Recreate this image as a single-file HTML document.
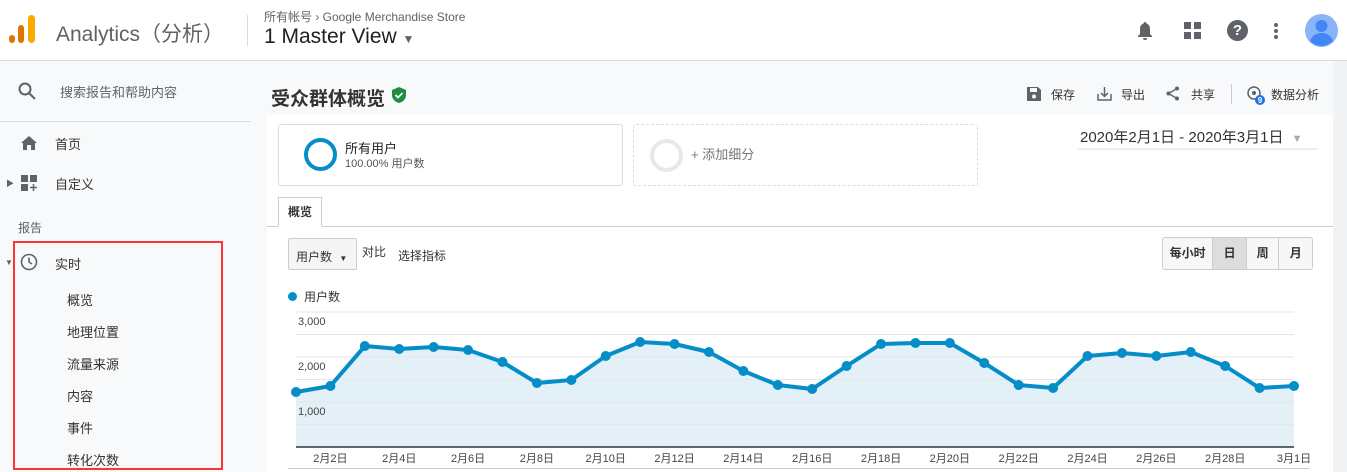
<!DOCTYPE html>
<html><head><meta charset="utf-8">
<style>
*{box-sizing:border-box;margin:0;padding:0}
body{width:1347px;height:472px;overflow:hidden;background:#f8f9fa;font-family:"Liberation Sans","Noto Sans CJK SC",sans-serif;color:#333;position:relative}
.a{position:absolute}
</style></head><body>
<div class="a" style="left:0;top:0;width:1347px;height:61px;background:#fff;border-bottom:1px solid #dadce0"></div>
<svg class="a" style="left:9px;top:15px" width="28" height="30"><rect x="0" y="20" width="6" height="8" rx="3" fill="#e37400"/><rect x="9" y="10" width="6" height="18" rx="3" fill="#e37400"/><rect x="19" y="0" width="7" height="28" rx="3.5" fill="#f9ab00"/></svg>
<div class="a" style="left:56px;top:18px;font-size:21px;color:#5f6368">Analytics（分析）</div>
<div class="a" style="left:247px;top:15px;width:1px;height:31px;background:#dadce0"></div>
<div class="a" style="left:264px;top:8px;font-size:12px;color:#5f6368">所有帐号 › Google Merchandise Store</div>
<div class="a" style="left:264px;top:25px;font-size:21px;color:#202124">1 Master View <span style="font-size:12px;color:#5f6368">▼</span></div>
<svg class="a" style="left:1136px;top:21px" width="18" height="20"><path d="M9 1c-1 0-1.5.8-1.5 1.5C5 3.3 4 5.5 4 8v5l-2 2v1h14v-1l-2-2V8c0-2.5-1-4.7-3.5-5.5C10.5 1.8 10 1 9 1z M7 17h4a2 2 0 0 1-4 0z" fill="#5f6368"/></svg>
<svg class="a" style="left:1184px;top:22px" width="17" height="17"><rect x="0" y="0" width="7" height="7" fill="#5f6368"/><rect x="10" y="0" width="7" height="7" fill="#5f6368"/><rect x="0" y="10" width="7" height="7" fill="#5f6368"/><rect x="10" y="10" width="7" height="7" fill="#5f6368"/></svg>
<div class="a" style="left:1227px;top:20px;width:21px;height:21px;border-radius:50%;background:#5f6368;color:#fff;font-size:15px;font-weight:bold;text-align:center;line-height:21px">?</div>
<svg class="a" style="left:1273px;top:22px" width="6" height="18"><circle cx="3" cy="3" r="2" fill="#5f6368"/><circle cx="3" cy="9" r="2" fill="#5f6368"/><circle cx="3" cy="15" r="2" fill="#5f6368"/></svg>
<svg class="a" style="left:1305px;top:14px" width="33" height="33"><circle cx="16.5" cy="16.5" r="16.5" fill="#8ab4f8"/><circle cx="16.5" cy="12" r="6" fill="#4285f4"/><path d="M5 27c2-6 7-8 11.5-8s9.5 2 11.5 8a16 16 0 0 1-23 0z" fill="#4285f4"/></svg>

<svg class="a" style="left:18px;top:82px" width="18" height="18"><circle cx="7" cy="7" r="5.5" stroke="#5f6368" stroke-width="2" fill="none"/><line x1="11" y1="11" x2="17" y2="17" stroke="#5f6368" stroke-width="2"/></svg>
<div class="a" style="left:60px;top:82px;font-size:13px;color:#5f6368">搜索报告和帮助内容</div>
<div class="a" style="left:0;top:121px;width:251px;height:1px;background:#dadce0"></div>
<svg class="a" style="left:21px;top:136px" width="16" height="14"><path d="M8 0L0 7h2v7h4V9h4v5h4V7h2z" fill="#5f6368"/></svg>
<div class="a" style="left:55px;top:134px;font-size:13px">首页</div>
<div class="a" style="left:6px;top:178px;font-size:8px;color:#5f6368">▶</div>
<svg class="a" style="left:21px;top:175px" width="16" height="16"><rect x="0" y="0" width="7" height="7" fill="#5f6368"/><rect x="9" y="0" width="7" height="7" fill="#5f6368"/><rect x="0" y="9" width="7" height="7" fill="#5f6368"/><path d="M12.5 9v7M9 12.5h7" stroke="#5f6368" stroke-width="1.5"/></svg>
<div class="a" style="left:55px;top:174px;font-size:13px">自定义</div>
<div class="a" style="left:18px;top:219px;font-size:12px;color:#5f6368">报告</div>
<div class="a" style="left:13px;top:241px;width:210px;height:229px;border:2px solid #f33"></div>
<div class="a" style="left:5px;top:258px;font-size:8px;color:#5f6368">▼</div>
<svg class="a" style="left:20px;top:253px" width="18" height="18"><circle cx="9" cy="9" r="7.5" stroke="#5f6368" stroke-width="1.6" fill="none"/><path d="M9 4.5V9l3 2" stroke="#5f6368" stroke-width="1.6" fill="none"/></svg>
<div class="a" style="left:55px;top:254px;font-size:13px">实时</div>
<div class="a" style="left:67px;top:290px;font-size:13px">概览</div>
<div class="a" style="left:67px;top:322px;font-size:13px">地理位置</div>
<div class="a" style="left:67px;top:354px;font-size:13px">流量来源</div>
<div class="a" style="left:67px;top:386px;font-size:13px">内容</div>
<div class="a" style="left:67px;top:418px;font-size:13px">事件</div>
<div class="a" style="left:67px;top:450px;font-size:13px">转化次数</div>

<div class="a" style="left:271px;top:84px;font-size:19px;font-weight:bold;color:#333">受众群体概览</div>
<svg class="a" style="left:392px;top:87px" width="14" height="16"><path d="M7 0L0 3v5c0 4 3 7 7 8 4-1 7-4 7-8V3z" fill="#1e8e3e"/><path d="M3.5 8l2.5 2.5L10.5 6" stroke="#fff" stroke-width="1.8" fill="none"/></svg>
<svg class="a" style="left:1027px;top:87px" width="14" height="14"><path d="M0 0h11l3 3v11H0z" fill="#5f6368"/><rect x="3" y="1" width="7" height="4" fill="#f8f9fa"/><circle cx="7" cy="9.5" r="2" fill="#f8f9fa"/></svg>
<div class="a" style="left:1051px;top:86px;font-size:12px;color:#333">保存</div>
<svg class="a" style="left:1097px;top:86px" width="15" height="15"><path d="M1 8v6h13V8M7.5 1v9M4 7l3.5 3.5L11 7" stroke="#5f6368" stroke-width="1.5" fill="none"/></svg>
<div class="a" style="left:1121px;top:86px;font-size:12px;color:#333">导出</div>
<svg class="a" style="left:1166px;top:86px" width="14" height="15"><circle cx="11" cy="2.5" r="2" fill="#5f6368"/><circle cx="2.5" cy="7.5" r="2" fill="#5f6368"/><circle cx="11" cy="12.5" r="2" fill="#5f6368"/><path d="M11 2.5L2.5 7.5 11 12.5" stroke="#5f6368" stroke-width="1.4" fill="none"/></svg>
<div class="a" style="left:1191px;top:86px;font-size:12px;color:#333">共享</div>
<div class="a" style="left:1231px;top:84px;width:1px;height:20px;background:#ccc"></div>
<svg class="a" style="left:1246px;top:86px" width="20" height="20"><circle cx="8" cy="7" r="6" stroke="#5f6368" stroke-width="1.5" fill="none"/><circle cx="8" cy="7" r="2" fill="#5f6368"/><circle cx="14" cy="14" r="5" fill="#1a73e8"/><text x="14" y="17" font-size="8" fill="#fff" text-anchor="middle" font-weight="bold" font-family="Liberation Sans">9</text></svg>
<div class="a" style="left:1271px;top:86px;font-size:12px;color:#333">数据分析</div>

<div class="a" style="left:267px;top:115px;width:1066px;height:357px;background:#fff"></div>
<div class="a" style="left:1333px;top:61px;width:14px;height:411px;background:#f1f3f4"></div>
<div class="a" style="left:278px;top:124px;width:345px;height:62px;border:1px solid #dadce0;border-radius:3px;background:#fff"></div>
<div class="a" style="left:304px;top:138px;width:33px;height:33px;border-radius:50%;border:4px solid #058dc7"></div>
<div class="a" style="left:345px;top:138px;font-size:13px;color:#222">所有用户</div>
<div class="a" style="left:345px;top:155px;font-size:11px;color:#555">100.00% 用户数</div>
<div class="a" style="left:633px;top:124px;width:345px;height:62px;border:1px dashed #dadce0;border-radius:3px"></div>
<div class="a" style="left:650px;top:139px;width:33px;height:33px;border-radius:50%;border:4px solid #e8e8e8"></div>
<div class="a" style="left:691px;top:144px;font-size:13px;color:#777">+ 添加细分</div>
<div class="a" style="left:1078px;top:126px;width:240px;height:24px;border-bottom:2px solid #eee;font-size:15px;color:#333;padding-left:2px">2020年2月1日 - 2020年3月1日 <span style="color:#aaa;font-size:11px;margin-left:4px">▼</span></div>
<div class="a" style="left:267px;top:226px;width:1066px;height:1px;background:#ccc"></div>
<div class="a" style="left:278px;top:197px;width:44px;height:30px;border:1px solid #ccc;border-bottom:1px solid #fff;background:#fff;font-size:12px;font-weight:bold;text-align:center;line-height:28px">概览</div>
<div class="a" style="left:288px;top:238px;width:69px;height:32px;border:1px solid #ccc;border-radius:2px;background:#f5f5f5;font-size:12px;padding:9px 0 0 7px">用户数 <span style="font-size:8px;margin-left:4px">▼</span></div>
<div class="a" style="left:362px;top:243px;font-size:12px">对比</div>
<div class="a" style="left:398px;top:247px;font-size:12px">选择指标</div>
<div class="a" style="left:1162px;top:237px;width:151px;height:33px;border:1px solid #ccc;border-radius:3px;display:flex;font-size:12px;font-weight:bold;background:#f7f7f7">
<div style="width:51px;text-align:center;line-height:31px;border-right:1px solid #ccc">每小时</div>
<div style="width:34px;text-align:center;line-height:31px;border-right:1px solid #ccc;background:#ddd">日</div>
<div style="width:33px;text-align:center;line-height:31px;border-right:1px solid #ccc">周</div>
<div style="width:33px;text-align:center;line-height:31px">月</div>
</div>
<div class="a" style="left:288px;top:288px;font-size:12px"><span style="display:inline-block;width:9px;height:9px;border-radius:50%;background:#058dc7;margin-right:7px"></span>用户数</div>

<svg class="a" id="chart" style="left:0;top:0" width="1347" height="472"></svg>
<script>
const labels=["2月1日","2月2日","2月3日","2月4日","2月5日","2月6日","2月7日","2月8日","2月9日","2月10日","2月11日","2月12日","2月13日","2月14日","2月15日","2月16日","2月17日","2月18日","2月19日","2月20日","2月21日","2月22日","2月23日","2月24日","2月25日","2月26日","2月27日","2月28日","2月29日","3月1日"];
const users=[1222,1356,2244,2178,2222,2156,1889,1422,1489,2022,2333,2289,2111,1689,1378,1289,1800,2289,2311,2311,1867,1378,1311,2022,2089,2022,2111,1800,1311,1356];
const yTicks=[1000,2000,3000];
const NS="http://www.w3.org/2000/svg";
const svg=document.getElementById('chart');
const x0=296,x1=1294,yBase=447,pxPer=0.045;
const X=i=>x0+(x1-x0)*i/(users.length-1);
const Y=v=>yBase-v*pxPer;
function mk(t,a){const e=document.createElementNS(NS,t);for(const k in a)e.setAttribute(k,a[k]);svg.appendChild(e);return e;}
let d='M'+X(0)+','+yBase;users.forEach((v,i)=>d+=' L'+X(i)+','+Y(v));d+=' L'+X(users.length-1)+','+yBase+'Z';
const area=mk('path',{d:d,fill:'#e3f0f8'});


[500,1000,1500,2000,2500,3000].forEach(v=>{const l=mk('line',{x1:x0,x2:x1,y1:Y(v),y2:Y(v),stroke:'#e6e6e6'});

});
yTicks.forEach(v=>{const t=mk('text',{x:298,y:Y(v)+13,'font-size':11,fill:'#444','font-family':'Liberation Sans'});t.textContent=v.toLocaleString('en-US');

});
const line=mk('polyline',{points:users.map((v,i)=>X(i)+','+Y(v)).join(' '),fill:'none',stroke:'#058dc7','stroke-width':4,'stroke-linejoin':'round'});


users.forEach((v,i)=>{const c=mk('circle',{cx:X(i),cy:Y(v),r:5,fill:'#058dc7'});

});
const ax=mk('line',{x1:x0,x2:x1,y1:yBase,y2:yBase,stroke:'#333','stroke-width':1.5});


labels.forEach((s,i)=>{if(i%2===1||i===labels.length-1){const t=mk('text',{x:X(i),y:462,'font-size':11,fill:'#444','text-anchor':'middle','font-family':'Liberation Sans, Noto Sans CJK SC, sans-serif'});t.textContent=s;

}});
const bl=mk('line',{x1:288,x2:1310,y1:468.5,y2:468.5,stroke:'#ccc'});


</script>
</body></html>
